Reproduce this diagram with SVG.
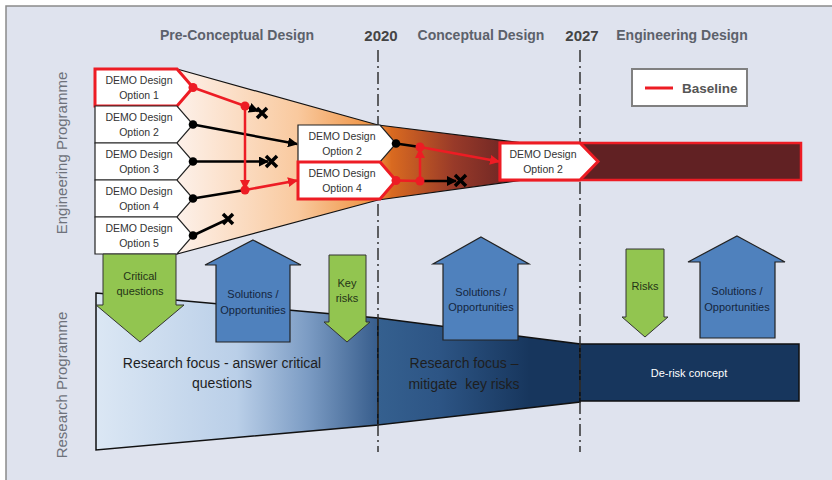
<svg xmlns="http://www.w3.org/2000/svg" width="832" height="480" viewBox="0 0 832 480">
<defs>
<linearGradient id="fan" gradientUnits="userSpaceOnUse" x1="177" y1="0" x2="523" y2="0">
<stop offset="0" stop-color="#fdf1ea"/>
<stop offset="0.35" stop-color="#f9c99e"/>
<stop offset="0.58" stop-color="#ee8f3c"/>
<stop offset="0.62" stop-color="#d96a20"/>
<stop offset="0.8" stop-color="#983a29"/>
<stop offset="1" stop-color="#622023"/>
</linearGradient>
<linearGradient id="res1" gradientUnits="userSpaceOnUse" x1="96" y1="0" x2="378" y2="0">
<stop offset="0" stop-color="#dbe7f4"/>
<stop offset="0.5" stop-color="#bacfe8"/>
<stop offset="0.75" stop-color="#7c9cc4"/>
<stop offset="1" stop-color="#375d8c"/>
</linearGradient>
<linearGradient id="res2" gradientUnits="userSpaceOnUse" x1="378" y1="0" x2="580" y2="0">
<stop offset="0" stop-color="#35608f"/>
<stop offset="0.3" stop-color="#2d5585"/>
<stop offset="0.75" stop-color="#17365d"/>
<stop offset="1" stop-color="#17365d"/>
</linearGradient>
<marker id="ahb" viewBox="0 0 10 10" refX="9" refY="5" markerWidth="4" markerHeight="4" orient="auto" markerUnits="strokeWidth">
<path d="M0,0 L10,5 L0,10 Z" fill="#000"/>
</marker>
<marker id="ahr" viewBox="0 0 10 10" refX="9" refY="5" markerWidth="4" markerHeight="4" orient="auto" markerUnits="strokeWidth">
<path d="M0,0 L10,5 L0,10 Z" fill="#ed1c24"/>
</marker>
<style>
.hdr{font-family:"Liberation Sans",Arial,sans-serif;font-weight:bold;font-size:14px;fill:#5c616b;text-anchor:middle}
.yr{font-family:"Liberation Sans",Arial,sans-serif;font-weight:bold;font-size:15px;fill:#444;text-anchor:middle}
.side{font-family:"Liberation Sans",Arial,sans-serif;font-size:15px;fill:#6e727b;text-anchor:middle}
.bt{font-family:"Liberation Sans",Arial,sans-serif;font-size:10.5px;fill:#333;text-anchor:middle}
.box{fill:#fff;stroke:#222;stroke-width:1.2}
.rbox{fill:#fff;stroke:#ed1c24;stroke-width:3}
.bl{stroke:#000;stroke-width:2.5;fill:none}
.rl{stroke:#ed1c24;stroke-width:2.5;fill:none}
.xm{stroke:#000;stroke-width:3.5;fill:none}
.green{fill:#92c550;stroke:#333;stroke-width:1}
.blue{fill:#4f81bd;stroke:#222;stroke-width:1.2}
.at{font-family:"Liberation Sans",Arial,sans-serif;font-size:11px;fill:#243417;text-anchor:middle}
.bbt{font-family:"Liberation Sans",Arial,sans-serif;font-size:11px;fill:#15263d;text-anchor:middle}
.rf{font-family:"Liberation Sans",Arial,sans-serif;font-size:14px;fill:#1e1e1e;text-anchor:middle}
.dd{stroke:#333;stroke-width:1.5;stroke-dasharray:12 4 2 4;fill:none}
</style>
</defs>
<rect x="0" y="0" width="832" height="480" fill="#ffffff"/>
<rect x="6" y="6" width="830" height="480" fill="#dfe3ee" stroke="#8a8a8a" stroke-width="1.5"/>

<g id="headers">
<text class="hdr" x="237" y="40">Pre-Conceptual Design</text>
<text class="yr" x="381" y="41">2020</text>
<text class="hdr" x="481" y="40">Conceptual Design</text>
<text class="yr" x="582" y="41">2027</text>
<text class="hdr" x="682" y="40">Engineering Design</text>
<text class="side" transform="translate(67,153) rotate(-90)">Engineering Programme</text>
<text class="side" transform="translate(67,385) rotate(-90)">Research Programme</text>
</g>

<g id="fan">
<polygon points="177,69 378,125 523,143 523,180 378,200 177,254" fill="url(#fan)" stroke="#111" stroke-width="1.2"/>
</g>

<g id="baseline-bar">
<rect x="500" y="143" width="301" height="37" fill="#612123" stroke="#ed1c24" stroke-width="2.5"/>
</g>

<g id="research">
<polygon points="96,293 378,318 378,425 96,450" fill="url(#res1)" stroke="#111" stroke-width="1.5"/>
<polygon points="378,318 580,344 580,402 378,425" fill="url(#res2)" stroke="#111" stroke-width="1.5"/>
<rect x="580" y="344" width="219" height="57" fill="#17365d" stroke="#111" stroke-width="1.5"/>
</g>

<g id="timelines">
<line class="dd" x1="378" y1="50" x2="378" y2="452"/>
<line class="dd" x1="580" y1="50" x2="580" y2="452"/>
</g>

<g id="opt1"><path class="rbox" d="M95,69 H177 L193,87.5 L177,106 H95 Z"/><text class="bt" x="139" y="84">DEMO Design</text><text class="bt" x="139" y="99">Option 1</text></g>
<g id="opt2"><path class="box" d="M95,106 H177 L193,124.5 L177,143 H95 Z"/><text class="bt" x="139" y="121">DEMO Design</text><text class="bt" x="139" y="136">Option 2</text></g>
<g id="opt3"><path class="box" d="M95,143 H177 L193,161.5 L177,180 H95 Z"/><text class="bt" x="139" y="158">DEMO Design</text><text class="bt" x="139" y="173">Option 3</text></g>
<g id="opt4"><path class="box" d="M95,180 H177 L193,198.5 L177,217 H95 Z"/><text class="bt" x="139" y="195">DEMO Design</text><text class="bt" x="139" y="210">Option 4</text></g>
<g id="opt5"><path class="box" d="M95,217 H177 L193,235.5 L177,254 H95 Z"/><text class="bt" x="139" y="232">DEMO Design</text><text class="bt" x="139" y="247">Option 5</text></g>

<g id="mid-opt2"><path class="box" d="M298,125 H380 L396,143.5 L380,162 H298 Z"/><text class="bt" x="342" y="140">DEMO Design</text><text class="bt" x="342" y="155">Option 2</text></g>
<g id="mid-opt4"><path class="rbox" d="M298,162 H380 L396,180.5 L380,199 H298 Z"/><text class="bt" x="342" y="177">DEMO Design</text><text class="bt" x="342" y="192">Option 4</text></g>
<g id="final-opt2"><path class="rbox" d="M500,143 H580 L598,161.5 L580,180 H500 Z"/><text class="bt" x="543" y="158">DEMO Design</text><text class="bt" x="543" y="173">Option 2</text></g>

<g id="connectors">
<line class="bl" x1="193" y1="124.5" x2="297" y2="144" marker-end="url(#ahb)"/>
<line class="bl" x1="193" y1="161.5" x2="268" y2="161.5" marker-end="url(#ahb)"/>
<line class="bl" x1="193" y1="198.5" x2="245" y2="190"/>
<line class="bl" x1="193" y1="235.5" x2="226" y2="220"/>
<line class="bl" x1="245" y1="106" x2="258" y2="111" marker-end="url(#ahb)"/>
<line class="rl" x1="193" y1="87.5" x2="245" y2="106"/>
<line class="rl" x1="245" y1="106" x2="245" y2="189" marker-end="url(#ahr)"/>
<line class="rl" x1="245" y1="190" x2="297" y2="180.5" marker-end="url(#ahr)"/>
<line class="bl" x1="396" y1="143.5" x2="420" y2="147"/>
<line class="bl" x1="420" y1="181" x2="456" y2="181" marker-end="url(#ahb)"/>
<line class="rl" x1="396" y1="180.5" x2="420" y2="181"/>
<line class="rl" x1="420" y1="181" x2="420" y2="149" marker-end="url(#ahr)"/>
<line class="rl" x1="420" y1="147" x2="499" y2="161.5" marker-end="url(#ahr)"/>
<g fill="#000">
<circle cx="193" cy="124.5" r="4.3"/><circle cx="193" cy="161.5" r="4.3"/><circle cx="193" cy="198.5" r="4.3"/><circle cx="193" cy="235.5" r="4.3"/><circle cx="396" cy="143.5" r="4.3"/>
</g>
<g fill="#ed1c24">
<circle cx="193" cy="87.5" r="4.5"/><circle cx="245" cy="106" r="4.5"/><circle cx="245" cy="190" r="4.5"/><circle cx="396" cy="180.5" r="4.5"/><circle cx="420" cy="147" r="4.5"/><circle cx="420" cy="181" r="4.5"/>
</g>
<path class="xm" d="M257,108 L267,118 M267,108 L257,118"/>
<path class="xm" d="M266,156 L277,167 M277,156 L266,167"/>
<path class="xm" d="M223,214 L233,224 M233,214 L223,224"/>
<path class="xm" d="M455,175 L466,186 M466,175 L455,186"/>
</g>

<g id="legend">
<rect x="632" y="69" width="115" height="37" fill="#fff" stroke="#808080" stroke-width="2"/>
<line x1="645" y1="88" x2="673" y2="88" stroke="#ed1c24" stroke-width="3"/>
<text x="682" y="93" font-family="Liberation Sans, Arial, sans-serif" font-weight="bold" font-size="13.5" fill="#555">Baseline</text>
</g>

<g id="research-text">
<text class="rf" x="222" y="368">Research focus - answer critical</text>
<text class="rf" x="222" y="388">questions</text>
<text class="rf" x="464" y="368" fill="#101010">Research focus –</text>
<text class="rf" x="464" y="389" fill="#101010" xml:space="preserve">mitigate  key risks</text>
<text x="689" y="377" font-family="Liberation Sans, Arial, sans-serif" font-size="11" fill="#fff" text-anchor="middle">De-risk concept</text>
</g>

<g id="critical-questions"><path class="green" d="M103,254 H176 V305 H184 L140,342 L96,305 H103 Z"/><text class="at" x="140" y="280">Critical</text><text class="at" x="140" y="295">questions</text></g>
<g id="solutions1"><path class="blue" d="M253,240 L301,265 H290 V342 H216 V265 H205 Z"/><text class="bbt" x="253" y="298">Solutions /</text><text class="bbt" x="253" y="314">Opportunities</text></g>
<g id="key-risks"><path class="green" d="M329,255 H366 V322 H370 L347,342 L324,322 H329 Z"/><text class="at" x="347" y="287">Key</text><text class="at" x="347" y="302">risks</text></g>
<g id="solutions2"><path class="blue" d="M481,237 L529,264 H518 V340 H443 V264 H433 Z"/><text class="bbt" x="481" y="296">Solutions /</text><text class="bbt" x="481" y="311">Opportunities</text></g>
<g id="risks"><path class="green" d="M626,249 H664 V317 H668 L645,337 L622,317 H626 Z"/><text class="at" x="645" y="290">Risks</text></g>
<g id="solutions3"><path class="blue" d="M737,236 L785,262 H775 V338 H700 V262 H688 Z"/><text class="bbt" x="737" y="295">Solutions /</text><text class="bbt" x="737" y="311">Opportunities</text></g>
</svg>
